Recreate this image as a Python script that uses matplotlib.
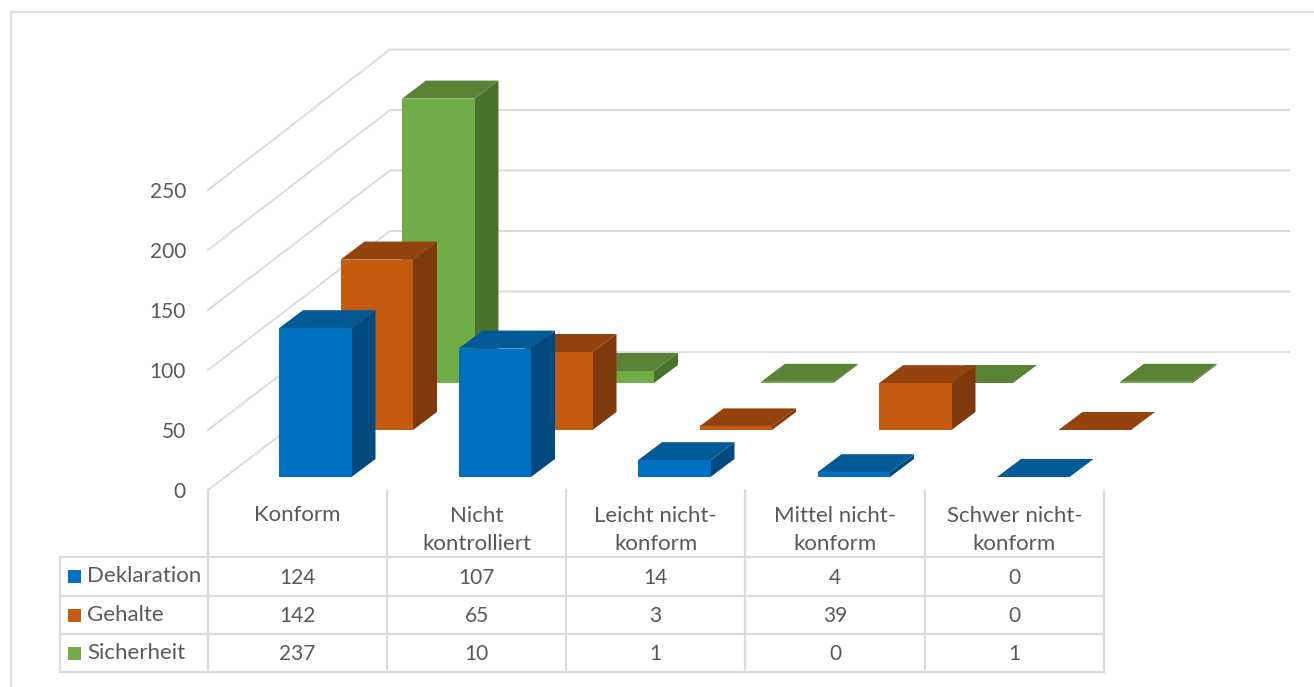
import matplotlib
matplotlib.use('Agg')
import matplotlib.pyplot as plt
from matplotlib.patches import Polygon, Rectangle

plt.rcParams['font.family'] = ['Lato', 'DejaVu Sans']

# Data
categories = ['Konform', 'Nicht\nkontrolliert', 'Leicht nicht-\nkonform',
              'Mittel nicht-\nkonform', 'Schwer nicht-\nkonform']
series_names = ['Deklaration', 'Gehalte', 'Sicherheit']
deklaration = [124, 107, 14, 4, 0]
gehalte = [142, 65, 3, 39, 0]
sicherheit = [237, 10, 1, 0, 1]
y_ticks = [0, 50, 100, 150, 200, 250]

all_values = [deklaration, gehalte, sicherheit]

# Colours per series: front, side, top
colors = [('#0070C0', '#004A80', '#005A96'),
          ('#C55A11', '#7E3A0C', '#94430D'),
          ('#70AD47', '#4A712E', '#5A8336')]

GRID = '#DBDBDB'
TEXT = '#595959'

# Pseudo 3D layout, all in pixels of the picture
PX_PER_UNIT = 1.2
BACK_PX_PER_UNIT = 1.21
BAR_W = 72.5
DEPTH_X, DEPTH_Y = 24, 18
CAT_STEP = 179.5
SERIES_DX, SERIES_DY = 61.5, -47
BAR_X0, BAR_Y0 = 279, 477
TABLE_X = [208, 387, 566, 745, 925, 1104]
ROW_Y = [557, 596, 634, 672]

fig = plt.figure(figsize=(13.14, 6.87), dpi=100)
ax = fig.add_axes([0, 0, 1, 1])
ax.set_xlim(0, 1314)
ax.set_ylim(687, 0)
ax.axis('off')

# outer chart frame, only left and top are in the crop
ax.plot([11, 11, 1314], [687, 12, 12], color='#DEDEDE', lw=1.6, zorder=1)


def draw_bar(cat, ser, value, zorder):
    front, side, top = colors[ser]
    x0 = BAR_X0 + cat * CAT_STEP + ser * SERIES_DX
    x1 = x0 + BAR_W
    base = BAR_Y0 + ser * SERIES_DY
    h = base - value * PX_PER_UNIT
    ax.add_patch(Polygon([(x1, base), (x1 + DEPTH_X, base - DEPTH_Y),
                          (x1 + DEPTH_X, h - DEPTH_Y), (x1, h)],
                         facecolor=side, edgecolor='none', zorder=zorder))
    ax.add_patch(Polygon([(x0, h), (x0 + DEPTH_X, h - DEPTH_Y),
                          (x1 + DEPTH_X, h - DEPTH_Y), (x1, h)],
                         facecolor=top, edgecolor='none', zorder=zorder))
    if value > 0:
        ax.add_patch(Rectangle((x0, h), BAR_W, value * PX_PER_UNIT,
                               facecolor=front, edgecolor='none', zorder=zorder))


# walls and gridlines
for tick in y_ticks:
    yf = 490 - tick * PX_PER_UNIT
    yb = 352 - tick * BACK_PX_PER_UNIT
    ax.plot([208, 390, 1289], [yf, yb, yb], color=GRID, lw=1.4,
            solid_joinstyle='miter', zorder=2)
    ax.text(186, yf + 2, str(tick), ha='right', va='center', fontsize=15, color=TEXT, zorder=10)

# bars, back row first
for ser in [2, 1, 0]:
    for cat in range(len(categories)):
        draw_bar(cat, ser, all_values[ser][cat], 3 + (2 - ser))

# data table
for x in TABLE_X:
    ax.plot([x, x], [490, ROW_Y[-1]], color=GRID, lw=1.6, zorder=6)
for y in ROW_Y:
    ax.plot([60, TABLE_X[-1]], [y, y], color=GRID, lw=1.6, zorder=6)
ax.plot([60, 60], [ROW_Y[0], ROW_Y[-1]], color=GRID, lw=1.6, zorder=6)

for i, cat in enumerate(categories):
    xc = (TABLE_X[i] + TABLE_X[i + 1]) / 2
    yc = 515 if i == 0 else 530
    ax.text(xc, yc, cat, ha='center', va='center', fontsize=16, color=TEXT,
            linespacing=1.52, zorder=10)

for ser, name in enumerate(series_names):
    yc = (ROW_Y[ser] + ROW_Y[ser + 1]) / 2
    ax.add_patch(Rectangle((68, yc - 6.5), 13, 13, facecolor=colors[ser][0],
                           edgecolor='none', zorder=10))
    ax.text(87, yc, name, ha='left', va='center', fontsize=16, color=TEXT, zorder=10)
    for i, value in enumerate(all_values[ser]):
        xc = (TABLE_X[i] + TABLE_X[i + 1]) / 2
        ax.text(xc, yc + 1, str(value), ha='center', va='center', fontsize=15,
                color=TEXT, zorder=10)

fig.savefig('out.png', dpi=100)
plt.close(fig)
